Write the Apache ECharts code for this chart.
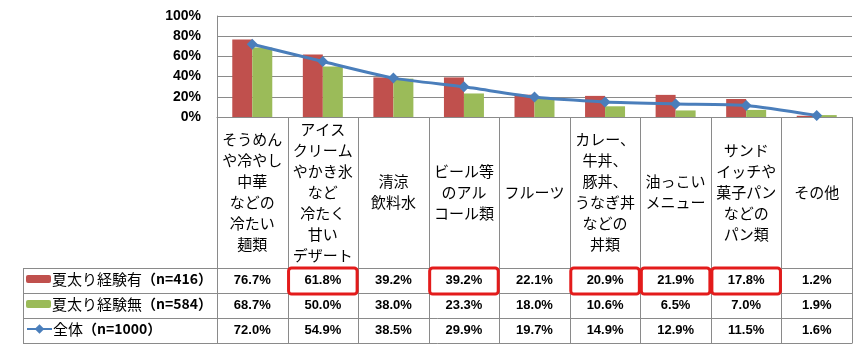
<!DOCTYPE html>
<html>
<head>
<meta charset="utf-8">
<script src="https://cdn.jsdelivr.net/npm/echarts@6/dist/echarts.min.js"></script>
<style>
html,body{margin:0;padding:0;background:#fff;}
#chart{width:866px;height:351px;}
</style>
</head>
<body>
<div id="chart"></div>
<script>
const categories = [
  'そうめん\nや冷やし\n中華\nなどの\n冷たい\n麺類',
  'アイス\nクリーム\nやかき氷\nなど\n冷たく\n甘い\nデザート',
  '清涼\n飲料水',
  'ビール等\nのアル\nコール類',
  'フルーツ',
  'カレー、\n牛丼、\n豚丼、\nうなぎ丼\nなどの\n丼類',
  '油っこい\nメニュー',
  'サンド\nイッチや\n菓子パン\nなどの\nパン類',
  'その他'
];
const seriesNames = ['夏太り経験有（n=416）', '夏太り経験無（n=584）', '全体（n=1000）'];
const expYes = [76.7, 61.8, 39.2, 39.2, 22.1, 20.9, 21.9, 17.8, 1.2];
const expNo  = [68.7, 50.0, 38.0, 23.3, 18.0, 10.6, 6.5, 7.0, 1.9];
const total  = [72.0, 54.9, 38.5, 29.9, 19.7, 14.9, 12.9, 11.5, 1.6];
const highlightCols = [1, 3, 5, 6, 7];
const yMin = 0, yMax = 100, yStep = 20;

const rows = [expYes, expNo, total];
const colors = ['#c0504d', '#9bbb59', '#4a7ebb'];
const gridLine = '#8a8a8a';
const numFont = '"Liberation Sans", Arial, sans-serif';
const jpFont = '"Noto Sans CJK JP", sans-serif';

const G = {left: 217, right: 14, top: 16, bottom: 234};
const axisY = 351 - G.bottom;      // 117
const tableTop = 268, rowH = 25, tableLeft = 23;
const rowCenters = [0,1,2].map(r => tableTop + rowH * r + rowH / 2);

const chart = echarts.init(document.getElementById('chart'));

const tableAxes = rows.map((vals, r) => ({
  type: 'category', gridIndex: 0, data: categories, position: 'bottom',
  offset: rowCenters[r] - axisY,
  axisLine: {show: false}, axisTick: {show: false}, splitLine: {show: false},
  axisLabel: {
    interval: 0, margin: 0, verticalAlign: 'middle',
    formatter: (v, i) => vals[i].toFixed(1) + '%',
    fontFamily: numFont, fontWeight: 'bold', fontSize: 13, color: '#000'
  }
}));

const legends = seriesNames.map((n, r) => ({
  data: [n], left: tableLeft + 3, top: rowCenters[r] - 9, padding: 0,
  itemWidth: 25, itemHeight: r === 2 ? 12 : 8, itemGap: 0,
  selectedMode: false,
  formatter: name => {
    const k = name.indexOf('（');
    return '{a|' + name.slice(0, k) + '}{b|' + name.slice(k) + '}';
  },
  textStyle: {
    padding: [0, 0, 0, -4],
    rich: {
      a: {fontFamily: jpFont, fontSize: 15, color: '#000', lineHeight: 18},
      b: {fontFamily: jpFont, fontSize: 14, fontWeight: 'bold', color: '#000', lineHeight: 18}
    }
  }
}));

chart.setOption({
  animation: false,
  backgroundColor: '#fff',
  grid: G,
  legend: legends,
  xAxis: [{
    type: 'category', data: categories, gridIndex: 0,
    axisLine: {show: true, lineStyle: {color: gridLine}},
    axisTick: {show: false},
    axisLabel: {
      interval: 0, margin: 75, verticalAlign: 'middle', align: 'center',
      fontFamily: jpFont, fontSize: 15, lineHeight: 21, color: '#000'
    }
  }].concat(tableAxes),
  yAxis: {
    type: 'value', min: yMin, max: yMax, interval: yStep,
    axisLine: {show: true, lineStyle: {color: gridLine}},
    axisTick: {show: false},
    splitLine: {lineStyle: {color: gridLine}},
    axisLabel: {formatter: '{value}%', margin: 16, fontFamily: numFont, fontWeight: 'bold', fontSize: 14, color: '#000'}
  },
  series: [
    {name: seriesNames[0], type: 'bar', data: expYes, barWidth: 20, barGap: '0%', itemStyle: {color: colors[0]}},
    {name: seriesNames[1], type: 'bar', data: expNo, barWidth: 20, barGap: '0%', itemStyle: {color: colors[1]}},
    {name: seriesNames[2], type: 'line', data: total, smooth: 0.2, symbol: 'diamond', symbolSize: 11,
     lineStyle: {width: 3, color: colors[2]}, itemStyle: {color: colors[2]}, z: 5}
  ]
});

// Table borders and highlight boxes derived from the category axis
const c0 = chart.convertToPixel({xAxisIndex: 0}, 0);
const c1 = chart.convertToPixel({xAxisIndex: 0}, 1);
const colW = c1 - c0;
const firstLeft = c0 - colW / 2;
const bounds = categories.map((_, i) => firstLeft + colW * i).concat([firstLeft + colW * categories.length]);
const tableBottom = tableTop + rowH * 3;
const gfx = [];
bounds.forEach(x => {
  const px = Math.round(x) + 0.5;
  gfx.push({type: 'line', shape: {x1: px, y1: axisY, x2: px, y2: tableBottom}, style: {stroke: gridLine, lineWidth: 1}, silent: true});
});
for (let r = 0; r <= 3; r++) {
  const py = tableTop + rowH * r + 0.5;
  gfx.push({type: 'line', shape: {x1: tableLeft, y1: py, x2: Math.round(bounds[bounds.length - 1]) + 0.5, y2: py}, style: {stroke: gridLine, lineWidth: 1}, silent: true});
}
gfx.push({type: 'line', shape: {x1: tableLeft + 0.5, y1: tableTop, x2: tableLeft + 0.5, y2: tableBottom}, style: {stroke: gridLine, lineWidth: 1}, silent: true});
highlightCols.forEach(i => {
  gfx.push({type: 'rect', z: 100,
    shape: {x: bounds[i] + 1, y: tableTop, width: colW - 2, height: rowH + 1, r: 3},
    style: {fill: 'none', stroke: '#e31b1b', lineWidth: 3}, silent: true});
});
chart.setOption({graphic: gfx});
</script>
</body>
</html>
